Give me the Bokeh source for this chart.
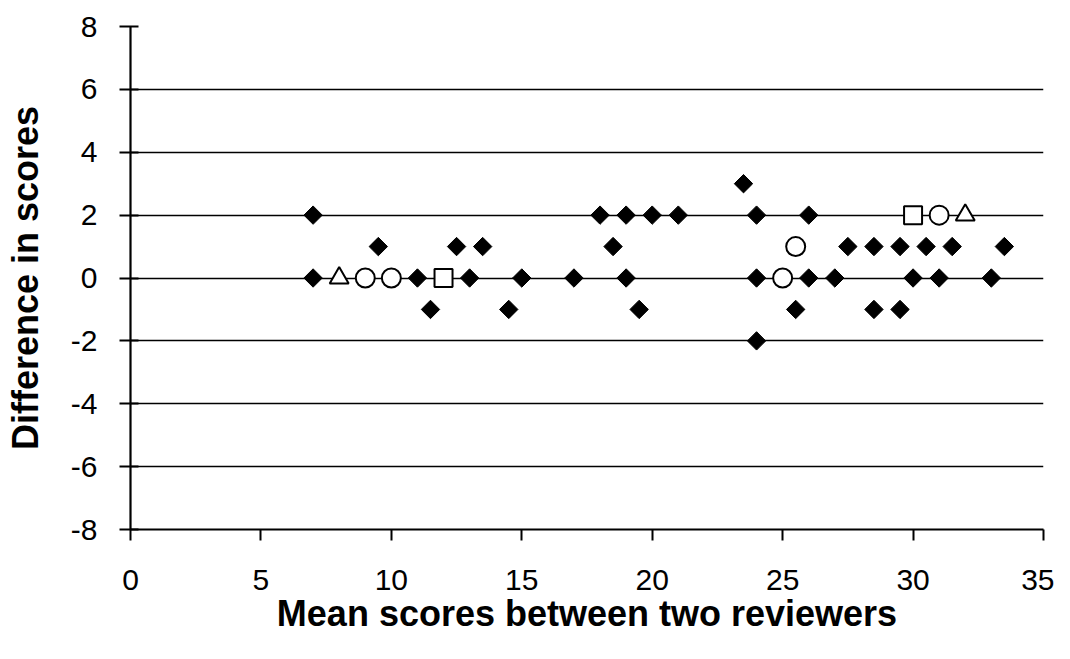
import math
from bokeh.plotting import figure
from bokeh.models import FixedTicker, Range1d
from bokeh.embed import file_html
from bokeh.resources import INLINE

# Filled diamonds
dia_x = [7, 18, 19, 20, 21, 24, 26,
         23.5,
         9.5, 12.5, 13.5, 18.5, 27.5, 28.5, 29.5, 30.5, 31.5, 33.5,
         7, 11, 13, 15, 17, 19, 24, 26, 27, 30, 31, 33,
         11.5, 14.5, 19.5, 25.5, 28.5, 29.5,
         24]
dia_y = [2, 2, 2, 2, 2, 2, 2,
         3,
         1, 1, 1, 1, 1, 1, 1, 1, 1, 1,
         0, 0, 0, 0, 0, 0, 0, 0, 0, 0, 0, 0,
         -1, -1, -1, -1, -1, -1,
         -2]
# Open circles
circ_x = [9, 10, 25, 25.5, 31]
circ_y = [0, 0, 0, 1, 2]
# Open triangles
tri_x = [8, 32]
tri_y = [0, 2]
# Open squares
sq_x = [12, 30]
sq_y = [0, 2]

x_ticks = [0, 5, 10, 15, 20, 25, 30, 35]
y_ticks = [-8, -6, -4, -2, 0, 2, 4, 6, 8]
y_tick_labels = ["-8", "-6", "-4", "-2", "0", "2", "4", "6", "8"]

p = figure(width=1054, height=643, output_backend="svg", toolbar_location=None,
           x_range=Range1d(0, 35), y_range=Range1d(-8, 8),
           min_border_left=130, min_border_right=11, min_border_top=26,
           min_border_bottom=114)
p.outline_line_color = None
p.background_fill_color = "white"
p.border_fill_color = "white"

p.xgrid.grid_line_color = None
p.ygrid.grid_line_color = "black"
p.ygrid.grid_line_width = 1.6
p.ygrid.ticker = FixedTicker(ticks=y_ticks)

p.xaxis.ticker = FixedTicker(ticks=x_ticks)
p.yaxis.ticker = FixedTicker(ticks=y_ticks)
p.yaxis.major_label_overrides = {t: s for t, s in zip(y_ticks, y_tick_labels)}

for ax in (p.xaxis[0], p.yaxis[0]):
    ax.axis_line_color = "black"
    ax.axis_line_width = 2.2
    ax.major_tick_line_color = "black"
    ax.major_tick_line_width = 2
    ax.minor_tick_line_color = None
    ax.major_label_text_font = "Liberation Sans"
    ax.major_label_text_font_size = "30px"
    ax.major_label_text_color = "black"
    ax.axis_label_text_font = "Liberation Sans"
    ax.axis_label_text_font_style = "bold"
    ax.axis_label_text_color = "black"

p.xaxis.major_tick_in = 0
p.xaxis.major_tick_out = 11
p.xaxis.major_label_standoff = 29
p.xaxis.axis_label = "Mean scores between two reviewers"
p.xaxis.axis_label_text_font_size = "36px"
p.xaxis.axis_label_standoff = 0

p.yaxis.major_tick_in = 8
p.yaxis.major_tick_out = 11
p.yaxis.major_label_standoff = 22
p.yaxis.axis_label = "Difference in scores"
p.yaxis.axis_label_text_font_size = "36px"
p.yaxis.axis_label_standoff = 22

p.scatter(dia_x, dia_y, marker="square", size=13, angle=math.pi / 4,
          fill_color="black", line_color="black", line_width=1)
p.scatter(circ_x, circ_y, marker="circle", size=19,
          fill_color="white", line_color="black", line_width=2)
p.scatter(tri_x, tri_y, marker="triangle", size=19,
          fill_color="white", line_color="black", line_width=2)
p.scatter(sq_x, sq_y, marker="square", size=18,
          fill_color="white", line_color="black", line_width=2)

open("out.html", "w").write(file_html(p, INLINE))
